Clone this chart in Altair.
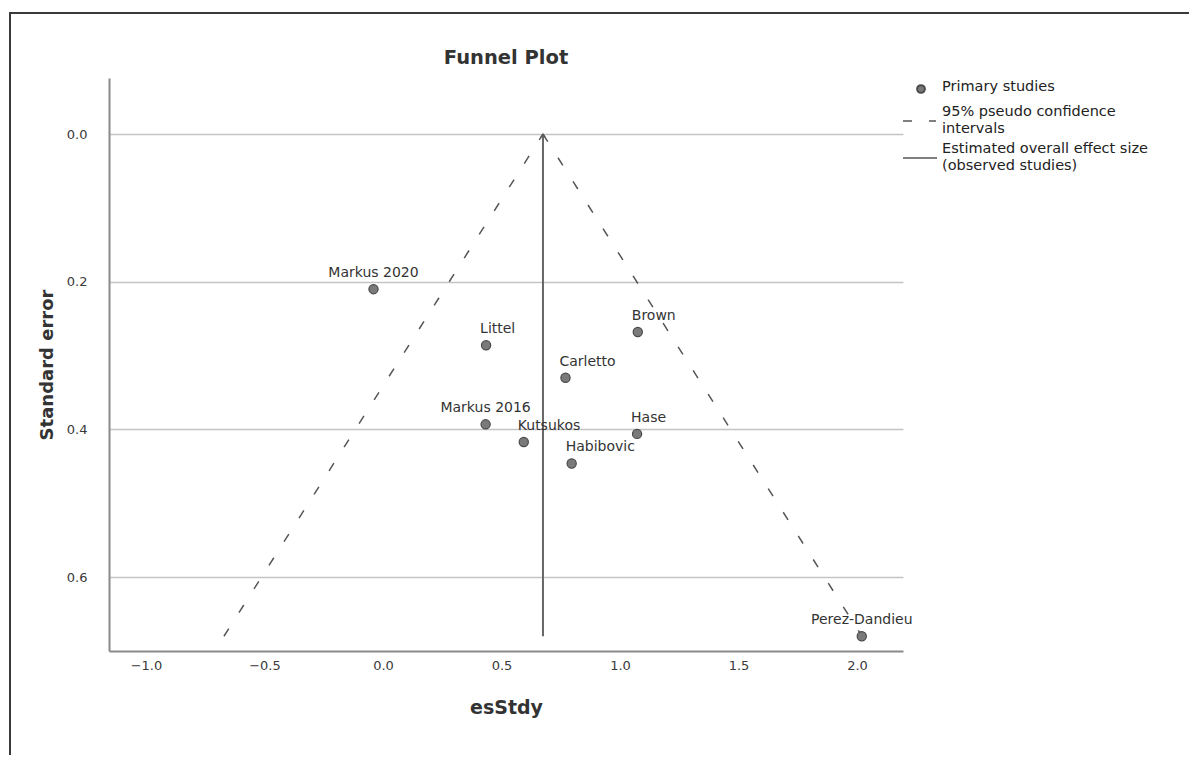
import altair as alt
import pandas as pd

# ---- data ----
studies = ["Markus 2020", "Littel", "Brown", "Carletto", "Markus 2016",
           "Kutsukos", "Hase", "Habibovic", "Perez-Dandieu"]
es = [-0.04, 0.435, 1.075, 0.77, 0.433, 0.594, 1.072, 0.796, 2.02]
se = [0.210, 0.286, 0.268, 0.330, 0.393, 0.417, 0.406, 0.446, 0.680]

overall_es = 0.675
overall_se = [0.0, 0.68]
ci_left_x = [0.675, -0.671]
ci_right_x = [0.675, 2.021]
ci_se = [0.0, 0.68]

x_ticks = [-1.0, -0.5, 0.0, 0.5, 1.0, 1.5, 2.0]
y_ticks = [0.0, 0.2, 0.4, 0.6]

chart_title = "Funnel Plot"
legend_labels = ["Primary studies",
                 ["95% pseudo confidence", "intervals"],
                 ["Estimated overall effect size", "(observed studies)"]]

centered_labels = ["Markus 2020", "Markus 2016", "Perez-Dandieu"]

FONT = "DejaVu Sans"
W, H = 794, 573

pts = pd.DataFrame({"study": studies, "es": es, "se": se})
ci = pd.DataFrame({
    "es": ci_left_x + ci_right_x,
    "se": ci_se + ci_se,
    "side": ["left", "left", "right", "right"],
})
ov = pd.DataFrame({"es": [overall_es, overall_es], "se": overall_se})
one = pd.DataFrame({"k": [0]})

xs = alt.Scale(domain=[-1.156, 2.194], nice=False, zero=False)
ys = alt.Scale(domain=[-0.076, 0.70], nice=False, zero=False, reverse=True)

x_enc = alt.X("es:Q", scale=xs, title="esStdy",
              axis=alt.Axis(values=x_ticks, format=".1f", grid=False, ticks=False,
                            domainColor="#8a8a8a", domainWidth=2,
                            labelColor="#3a3a3a", labelFontSize=13, labelPadding=8,
                            labelFont=FONT, titleFont=FONT, titleFontSize=19,
                            titleFontWeight="bold", titleColor="#333",
                            titlePadding=26))
y_enc = alt.Y("se:Q", scale=ys, title="Standard error",
              axis=alt.Axis(values=y_ticks, format=".1f", grid=True,
                            gridColor="#c4c4c4", gridWidth=1.6, ticks=False,
                            domainColor="#8a8a8a", domainWidth=2,
                            labelColor="#3a3a3a", labelFontSize=13, labelPadding=22,
                            labelFont=FONT, titleFont=FONT, titleFontSize=18,
                            titleFontWeight="bold", titleColor="#333",
                            titlePadding=10))

ci_lines = alt.Chart(ci).mark_line(color="#555", strokeWidth=1.5,
                                   strokeDash=[9, 19]).encode(
    x=x_enc, y=y_enc, detail="side:N")

ov_line = alt.Chart(ov).mark_line(color="#666", strokeWidth=2).encode(
    x=alt.X("es:Q", scale=xs), y=alt.Y("se:Q", scale=ys))

arrow = alt.Chart(ov.head(1)).mark_point(
    shape="M-0.45,0.7L0,0L0.45,0.7", filled=False, stroke="#555",
    strokeWidth=1.6, size=90).encode(
    x=alt.X("es:Q", scale=xs), y=alt.Y("se:Q", scale=ys))

points = alt.Chart(pts).mark_point(filled=True, size=85, color="#7a7a7a",
                                   stroke="#4a4a4a", strokeWidth=1.2,
                                   opacity=1).encode(
    x=alt.X("es:Q", scale=xs), y=alt.Y("se:Q", scale=ys))

labels_c = alt.Chart(pts).transform_filter(
    alt.FieldOneOfPredicate(field="study", oneOf=centered_labels)
).mark_text(font=FONT, fontSize=14, color="#333", dy=-16,
            align="center", baseline="middle").encode(
    x=alt.X("es:Q", scale=xs), y=alt.Y("se:Q", scale=ys), text="study:N")

labels_l = alt.Chart(pts).transform_filter(
    {"not": alt.FieldOneOfPredicate(field="study", oneOf=centered_labels).to_dict()}
).mark_text(font=FONT, fontSize=14, color="#333", dy=-16, dx=-6,
            align="left", baseline="middle").encode(
    x=alt.X("es:Q", scale=xs), y=alt.Y("se:Q", scale=ys), text="study:N")

# ---- title as a text mark (kept inside the frame) ----
title_mark = alt.Chart(one).mark_text(text=chart_title, font=FONT, fontSize=19.5,
                                      fontWeight="bold", color="#333",
                                      align="center", baseline="middle").encode(
    x=alt.value(W / 2), y=alt.value(-20))

# ---- legend (drawn outside the plot area, on the right) ----
LG = 14.5
LH = 16.8
lg_point = alt.Chart(one).mark_point(filled=True, size=60, color="#7a7a7a",
                                     stroke="#4a4a4a", opacity=1).encode(
    x=alt.value(812), y=alt.value(11))
lg_t1 = alt.Chart(one).mark_text(text=legend_labels[0], font=FONT, fontSize=LG,
                                 color="#222", align="left",
                                 baseline="middle").encode(
    x=alt.value(833), y=alt.value(9))
lg_dash = alt.Chart(one).mark_rule(color="#555", strokeWidth=1.5,
                                   strokeDash=[9, 17]).encode(
    x=alt.value(794), x2=alt.value(827), y=alt.value(43))
lg_t2 = alt.Chart(one).mark_text(text=legend_labels[1], font=FONT, fontSize=LG,
                                 lineHeight=LH, color="#222", align="left",
                                 baseline="middle").encode(
    x=alt.value(833), y=alt.value(34))
lg_solid = alt.Chart(one).mark_rule(color="#555", strokeWidth=1.5).encode(
    x=alt.value(794), x2=alt.value(828), y=alt.value(80))
lg_t3 = alt.Chart(one).mark_text(text=legend_labels[2], font=FONT, fontSize=LG,
                                 lineHeight=LH, color="#222", align="left",
                                 baseline="middle").encode(
    x=alt.value(833), y=alt.value(71))

# ---- outer frame (left and top edges) ----
frame_left = alt.Chart(one).mark_rule(color="#3a3a3a", strokeWidth=2).encode(
    x=alt.value(-99), y=alt.value(-65), y2=alt.value(677))
frame_top = alt.Chart(one).mark_rule(color="#3a3a3a", strokeWidth=2).encode(
    x=alt.value(-100), x2=alt.value(1080), y=alt.value(-65))

chart = alt.layer(
    ci_lines, ov_line, arrow, points, labels_c, labels_l, title_mark,
    lg_point, lg_t1, lg_dash, lg_t2, lg_solid, lg_t3,
    frame_left, frame_top,
).properties(
    width=W, height=H,
    padding={"left": 0, "top": 4, "right": 0, "bottom": 0},
).configure(background="white", view=alt.ViewConfig(strokeWidth=0))

chart.save("out.html", embed_options={"renderer": "svg", "actions": False})
